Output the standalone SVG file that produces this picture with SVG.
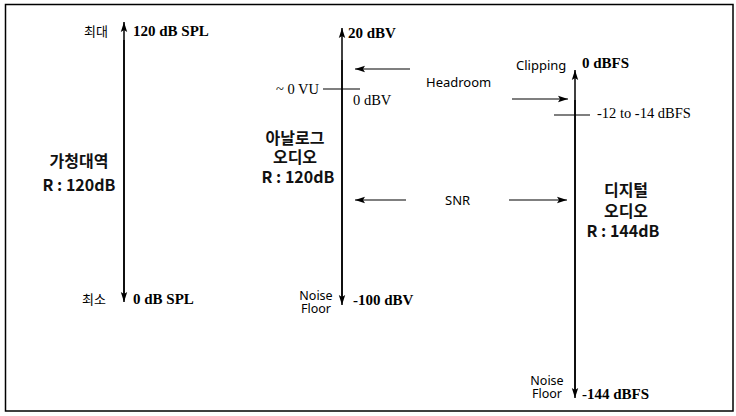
<svg xmlns="http://www.w3.org/2000/svg" width="736" height="416" viewBox="0 0 736 416">
<defs>
<style>
.ax{stroke:#000;stroke-width:1.5;fill:none}
.ln{stroke:#000;stroke-width:1.2;fill:none}
.k{font-family:"Noto Sans CJK KR","Noto Sans",sans-serif;font-size:16px;font-weight:bold;fill:#111;text-anchor:middle}
.s{font-family:"Noto Sans","Liberation Sans",sans-serif;font-size:13px;fill:#000}
.sm{font-family:"Noto Sans","Liberation Sans",sans-serif;font-size:12.5px;fill:#000;text-anchor:middle}
.tb{font-family:"Liberation Serif",serif;font-size:15px;font-weight:bold;fill:#000}
.tr{font-family:"Liberation Serif",serif;font-size:14.5px;fill:#000}
.kk{font-family:"Noto Sans CJK KR",sans-serif;font-size:13px;fill:#000}
</style>
<marker id="ah" viewBox="0 0 10 8" refX="10" refY="4" markerWidth="11" markerHeight="8" markerUnits="userSpaceOnUse" orient="auto">
<path d="M0,0.8 L10,4 L0,7.2 L2,4 Z" fill="#000"/>
</marker>
</defs>
<rect x="5.5" y="4.5" width="727.5" height="406.5" fill="#fff" stroke="#000" stroke-width="1.5"/>

<g id="connectors">
<line class="ax" x1="124" y1="300" x2="124" y2="22" marker-end="url(#ah)"/>
<line class="ax" x1="124" y1="40" x2="124" y2="302" marker-end="url(#ah)"/>
<line class="ax" x1="342" y1="300" x2="342" y2="28" marker-end="url(#ah)"/>
<line class="ax" x1="342" y1="60" x2="342" y2="305" marker-end="url(#ah)"/>
<line class="ax" x1="575" y1="390" x2="575" y2="70" marker-end="url(#ah)"/>
<line class="ax" x1="575" y1="100" x2="575" y2="398" marker-end="url(#ah)"/>
<line class="ln" x1="323" y1="89" x2="360" y2="89"/>
<line class="ln" x1="554" y1="115" x2="590" y2="115"/>
<line class="ln" x1="410" y1="69" x2="355" y2="69" marker-end="url(#ah)"/>
<line class="ln" x1="512" y1="99" x2="568" y2="99" marker-end="url(#ah)"/>
<line class="ln" x1="406" y1="200" x2="355" y2="200" marker-end="url(#ah)"/>
<line class="ln" x1="509" y1="200" x2="567" y2="200" marker-end="url(#ah)"/>
</g>

<g id="hearing">
<text class="kk" x="84" y="36">최대</text>
<text class="tb" x="133" y="36">120 dB SPL</text>
<text class="kk" x="82" y="304">최소</text>
<text class="tb" x="133" y="304">0 dB SPL</text>
<text class="k" x="79" y="167">가청대역</text>
<text class="k" x="79" y="191">R : 120dB</text>
</g>

<g id="analog">
<text class="tb" x="348" y="38">20 dBV</text>
<text class="tr" x="276" y="94">~ 0 VU</text>
<text class="tr" x="353" y="105">0 dBV</text>
<text class="k" x="295" y="144">아날로그</text>
<text class="k" x="295" y="163">오디오</text>
<text class="k" x="298" y="183">R : 120dB</text>
<text class="sm" x="316" y="300">Noise</text>
<text class="sm" x="316" y="313">Floor</text>
<text class="tb" x="353" y="305">-100 dBV</text>
</g>

<g id="middle-labels">
<text class="s" x="426" y="87">Headroom</text>
<text class="s" x="445" y="205">SNR</text>
</g>

<g id="digital">
<text class="s" x="516" y="70">Clipping</text>
<text class="tb" x="582" y="68">0 dBFS</text>
<text class="tr" x="597" y="118">-12 to -14 dBFS</text>
<text class="k" x="626" y="196">디지털</text>
<text class="k" x="626" y="217">오디오</text>
<text class="k" x="623" y="237">R : 144dB</text>
<text class="sm" x="547" y="385">Noise</text>
<text class="sm" x="547" y="398">Floor</text>
<text class="tb" x="582" y="399">-144 dBFS</text>
</g>
</svg>
